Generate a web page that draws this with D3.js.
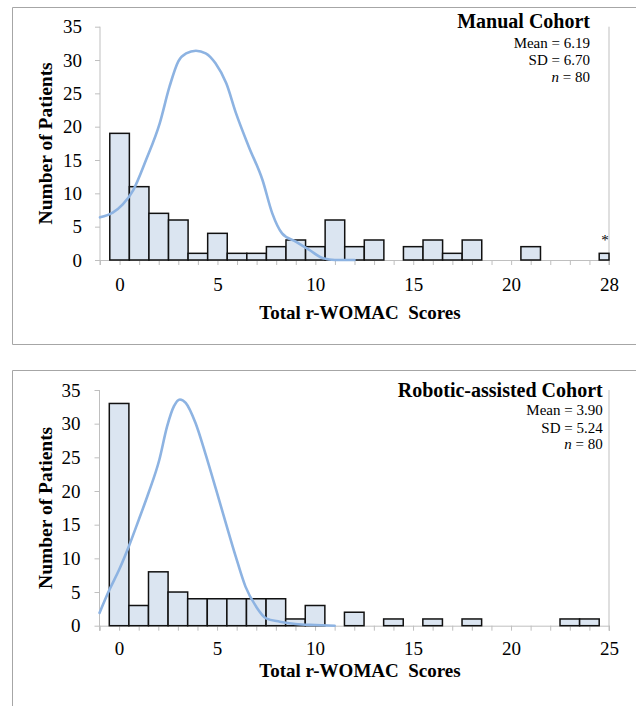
<!DOCTYPE html>
<html>
<head>
<meta charset="utf-8">
<script src="https://cdn.jsdelivr.net/npm/d3@7"></script>
<style>
  body { margin: 0; background: #fff; }
  svg { display: block; font-family: "Liberation Serif", "Times New Roman", serif; }
</style>
</head>
<body>
<script>
const w = 636;
const h = 706;

// score bins (25 = the outlier bin, labelled 28 in the manual chart)
const scores = [0, 1, 2, 3, 4, 5, 6, 7, 8, 9, 10, 11, 12, 13, 14, 15, 16, 17, 18, 19, 20, 21, 22, 23, 24, 25];
const manualCounts = [19, 11, 7, 6, 1, 4, 1, 1, 2, 3, 2, 6, 2, 3, 0, 2, 3, 1, 3, 0, 0, 2, 0, 0, 0, 1];
const roboticCounts = [33, 3, 8, 5, 4, 4, 4, 4, 4, 1, 3, 0, 2, 0, 1, 0, 1, 0, 1, 0, 0, 0, 0, 1, 1, 0];

// smoothed distribution curves [score, patients]
const manualCurve = [[-1, 6.4], [-0.35, 7.1], [0.15, 8.3], [0.7, 10.5], [1.35, 15], [2.05, 20.5], [2.55, 26],
  [3.0, 29.8], [3.4, 31], [3.9, 31.4], [4.4, 31], [4.9, 29.5], [5.45, 26.5], [5.95, 22], [6.6, 17], [7.3, 12],
  [7.8, 7], [8.3, 4], [9.0, 2.75], [9.7, 1.5], [10.4, 0.25], [11.0, 0], [12, 0]];
const roboticCurve = [[-1, 1.9], [-0.5, 5.3], [0, 8.3], [0.5, 11.8], [1.0, 15.7], [1.5, 19.7], [2.05, 24.6],
  [2.45, 29.6], [2.8, 32.6], [3.1, 33.6], [3.4, 33.1], [3.9, 30.1], [4.4, 25.6], [4.95, 20.2], [5.45, 15.2],
  [5.95, 10.3], [6.45, 5.8], [7.0, 2.8], [7.5, 1.1], [8.2, 0.6], [9.0, 0.25], [10, 0.1], [11, 0]];

const yTicks = [0, 5, 10, 15, 20, 25, 30, 35];
const xLabelPos = [0, 5, 10, 15, 20, 25];
const manualXLabels = ["0", "5", "10", "15", "20", "28"];
const roboticXLabels = ["0", "5", "10", "15", "20", "25"];
const manualStats = ["Mean = 6.19", "SD = 6.70", "80"];
const roboticStats = ["Mean = 3.90", "SD = 5.24", "80"];

const axisColor = "#bfbfbf";
const barFill = "#dbe5f1";
const curveColor = "#8db3e2";
const serif = "Liberation Serif";

const svg = d3.select("body")
    .append("svg")
    .attr("width", w)
    .attr("height", h);

// panel frames
function frame(g, top, bottom) {
    g.append("path")
        .attr("d", "M" + w + "," + top + "H12.5V" + bottom + (bottom < h ? "H" + w : ""))
        .attr("fill", "none")
        .attr("stroke", "#a6a6a6")
        .attr("stroke-width", 1);
}
frame(svg, 7.5, 344.5);
frame(svg, 370.5, h + 2);

function drawPanel(p) {
    const g = svg.append("g");

    const xScale = d3.scaleLinear()
        .domain([-1, 25])
        .range([p.left, 609]);

    const yScale = d3.scaleLinear()
        .domain([0, 35])
        .range([p.base, p.top]);

    // y axis
    const yAxis = d3.axisLeft(yScale)
        .tickValues(yTicks)
        .tickSize(5)
        .tickPadding(p.yPad);
    const ya = g.append("g")
        .attr("transform", "translate(" + p.left + ",0)")
        .call(yAxis)
        .attr("font-family", serif)
        .attr("font-size", 19);
    ya.select(".domain").remove();
    ya.selectAll("line").attr("stroke", axisColor);
    ya.selectAll("text").attr("fill", "#000");

    // vertical axis lines (left and right)
    [-1, 25].forEach(function(v) {
        g.append("line")
            .attr("x1", xScale(v)).attr("x2", xScale(v))
            .attr("y1", p.top).attr("y2", p.base + 5)
            .attr("stroke", axisColor);
    });

    // x axis
    const xAxis = d3.axisBottom(xScale)
        .tickValues(scores.concat([-1]))
        .tickSize(5)
        .tickPadding(p.xPad)
        .tickFormat(function(d) {
            const i = xLabelPos.indexOf(d);
            return i >= 0 ? p.xLabels[i] : "";
        });
    const xa = g.append("g")
        .attr("transform", "translate(0," + p.base + ")")
        .call(xAxis)
        .attr("font-family", serif)
        .attr("font-size", 19);
    xa.select(".domain").attr("stroke", axisColor);
    xa.selectAll("line").attr("stroke", axisColor);
    xa.selectAll("text").attr("fill", "#000");

    // bars
    g.selectAll("rect.bar")
        .data(scores.map(function(s, i) { return {s: s, c: p.counts[i]}; })
            .filter(function(d) { return d.c > 0; }))
        .enter()
        .append("rect")
        .attr("class", "bar")
        .attr("x", function(d) { return xScale(d.s - 0.5); })
        .attr("width", function(d) { return xScale(Math.min(d.s + 0.5, 25)) - xScale(d.s - 0.5); })
        .attr("y", function(d) { return yScale(d.c); })
        .attr("height", function(d) { return yScale(0) - yScale(d.c); })
        .attr("fill", barFill)
        .attr("stroke", "#111")
        .attr("stroke-width", 1.5);

    // curve
    const line = d3.line()
        .x(function(d) { return xScale(d[0]); })
        .y(function(d) { return yScale(d[1]); })
        .curve(d3.curveMonotoneX);
    g.append("path")
        .datum(p.curve)
        .attr("d", line)
        .attr("fill", "none")
        .attr("stroke", curveColor)
        .attr("stroke-width", 2.6)
        .attr("stroke-linecap", "round");

    // axis titles
    g.append("text")
        .attr("transform", "translate(52," + ((p.top + p.base) / 2) + ") rotate(-90)")
        .attr("text-anchor", "middle")
        .attr("font-weight", "bold")
        .attr("font-size", 19.5)
        .text("Number of Patients");

    g.append("text")
        .attr("x", 360)
        .attr("y", p.xTitleY)
        .attr("text-anchor", "middle")
        .attr("font-weight", "bold")
        .attr("font-size", 19)
        .style("white-space", "pre")
        .text("Total r-WOMAC  Scores");

    // legend text
    g.append("text")
        .attr("x", p.titleX)
        .attr("y", p.titleY)
        .attr("text-anchor", "end")
        .attr("font-weight", "bold")
        .attr("font-size", 20)
        .text(p.title);

    p.stats.forEach(function(s, i) {
        const t = g.append("text")
            .attr("x", p.titleX)
            .attr("y", p.statsY[i])
            .attr("text-anchor", "end")
            .attr("font-size", 15);
        if (i === 2) {
            t.append("tspan").attr("font-style", "italic").text("n");
            t.append("tspan").text(" = " + s);
        } else {
            t.text(s);
        }
    });

    if (p.star) {
        g.append("text")
            .attr("x", xScale(24.8))
            .attr("y", yScale(1) - 8)
            .attr("text-anchor", "middle")
            .attr("font-size", 15)
            .text("*");
    }
}

drawPanel({
    left: 100, top: 26.7, base: 260,
    yPad: 13, xPad: 12.5, xTitleY: 319,
    counts: manualCounts, curve: manualCurve, xLabels: manualXLabels,
    title: "Manual Cohort", titleX: 590, titleY: 28.3,
    stats: manualStats, statsY: [47.5, 65, 81.7],
    star: true
});

drawPanel({
    left: 99.5, top: 390, base: 625.7,
    yPad: 14, xPad: 11, xTitleY: 676.5,
    counts: roboticCounts, curve: roboticCurve, xLabels: roboticXLabels,
    title: "Robotic-assisted Cohort", titleX: 602.7, titleY: 396.7,
    stats: roboticStats, statsY: [415, 432.7, 449.3],
    star: false
});
</script>
</body>
</html>
